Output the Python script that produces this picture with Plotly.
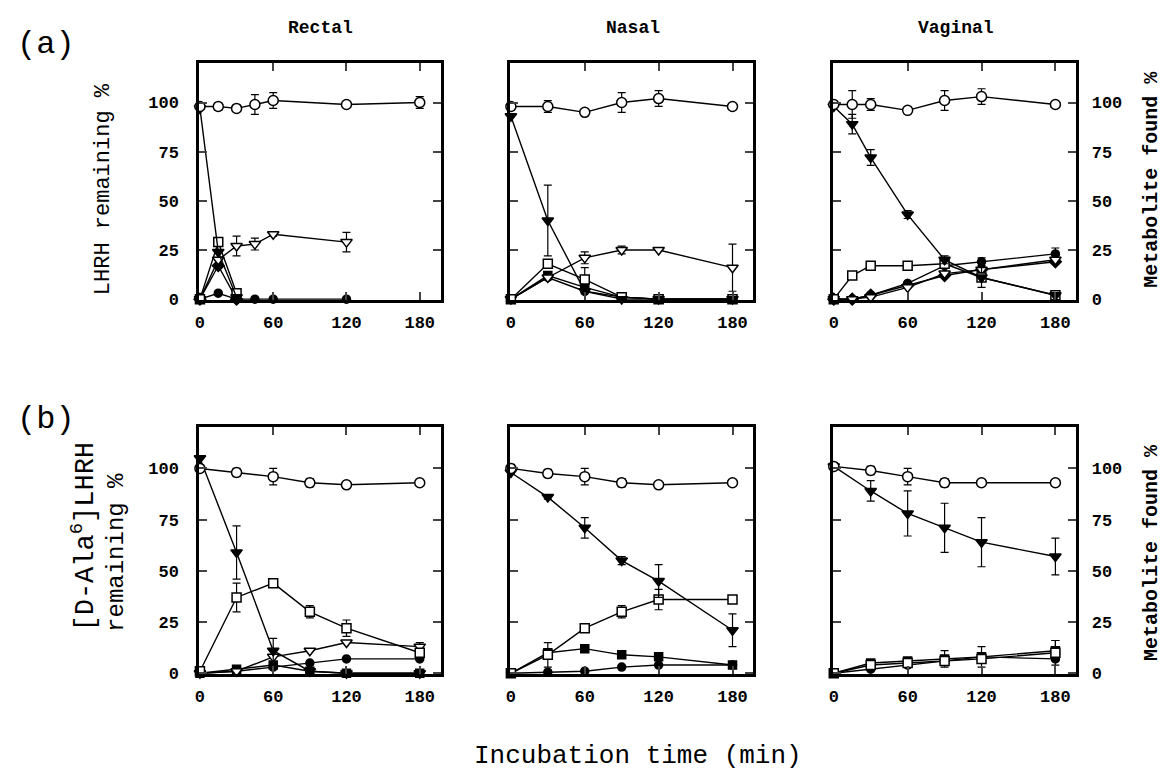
import plotly.graph_objects as go

W, H = 1171, 783

# ---------------- data ----------------
# Row (a): LHRH
T_AR = [0, 15, 30, 45, 60, 120, 180]
T_AR_SHORT = [0, 15, 30]
T_AR_MID = [0, 15, 30, 45, 60, 120]
AR_LHRH = [98, 98, 97, 99, 101, 99, 100]
AR_LHRH_ERR = [1, 2, 0, 5, 4, 1, 3]
AR_FT = [97, 24, 1]
AR_OS = [0, 29, 3]
AR_FD = [0, 17, 0]
AR_FC = [0, 3, 0, 0, 0, 0]
AR_OT = [0, 20, 27, 28, 33, 29]
AR_OT_ERR = [0, 0, 5, 3, 1, 5]

T_AN = [0, 30, 60, 90, 120, 180]
AN_LHRH = [98, 98, 95, 100, 102, 98]
AN_LHRH_ERR = [2, 3, 0, 5, 4, 1]
AN_FT = [93, 40, 4, 0, 0, 0]
AN_FT_ERR = [0, 18, 0, 0, 0, 0]
AN_OS = [0, 18, 10, 1, 0, 0]
AN_OS_ERR = [0, 0, 6, 0, 0, 0]
AN_FSQ = [0, 12, 6, 1, 0, 0]
AN_FC = [0, 11, 4, 1, 0, 0]
AN_OT = [0, 11, 21, 25, 25, 16]
AN_OT_ERR = [0, 0, 3, 2, 0, 12]

T_AV = [0, 15, 30, 60, 90, 120, 180]
AV_LHRH = [99, 99, 99, 96, 101, 103, 99]
AV_LHRH_ERR = [0, 7, 3, 0, 5, 4, 1]
AV_FT = [98, 89, 72, 43, 20, 11, 2]
AV_FT_ERR = [0, 5, 4, 2, 2, 0, 0]
AV_OS = [0, 12, 17, 17, 18, 11, 2]
AV_OS_ERR = [0, 0, 0, 2, 0, 5, 1]
AV_FD = [0, 0, 2, 7, 12, 15, 19]
AV_FC = [0, 0, 2, 8, 17, 19, 23]
AV_FC_ERR = [0, 0, 0, 0, 0, 2, 3]
AV_OT = [0, 0, 1, 6, 13, 15, 20]
AV_OT_ERR = [0, 0, 0, 0, 0, 0, 2]

# Row (b): [D-Ala6]LHRH
T_B = [0, 30, 60, 90, 120, 180]
BR_LHRH = [100, 98, 96, 93, 92, 93]
BR_LHRH_ERR = [1, 2, 4, 2, 0, 0]
BR_FT = [105, 59, 11, 1, 0, 0]
BR_FT_ERR = [0, 13, 6, 0, 0, 0]
BR_OS = [1, 37, 44, 30, 22, 10]
BR_OS_ERR = [0, 7, 0, 3, 4, 0]
BR_OT = [0, 1, 8, 11, 15, 13]
BR_OT_ERR = [0, 0, 0, 0, 0, 2]
BR_FC = [0, 1, 3, 5, 7, 7]
BR_FSQ = [0, 2, 4, 1, 0, 0]

BN_LHRH = [100, 97.5, 96, 93, 92, 93]
BN_LHRH_ERR = [2, 2, 4, 2, 0, 0]
BN_FT = [98, 86, 71, 55, 45, 21]
BN_FT_ERR = [0, 1, 5, 2, 8, 8]
BN_OS = [0, 9, 22, 30, 36, 36]
BN_OS_ERR = [0, 6, 0, 3, 5, 0]
BN_FSQ = [0, 10, 12, 9, 8, 4]
BN_FC = [0, 0.5, 1, 3, 4, 4]

BV_LHRH = [101, 99, 96, 93, 93, 93]
BV_LHRH_ERR = [1, 2, 4, 2, 0, 0]
BV_FT = [101, 89, 78, 71, 64, 57]
BV_FT_ERR = [0, 5, 11, 12, 12, 9]
BV_OS = [0, 4, 5, 6, 7, 10]
BV_OS_ERR = [0, 0, 0, 0, 0, 6]
BV_FSQ = [0, 5, 6, 7, 8, 11]
BV_FSQ_ERR = [0, 0, 0, 4, 5, 5]
BV_FC = [0, 2, 4, 6, 8, 7]

COLUMN_TITLES = ["Rectal", "Nasal", "Vaginal"]
X_TICKS = [0, 60, 120, 180]
Y_TICKS = [0, 25, 50, 75, 100]

# ---------------- styles ----------------
STYLE = {
    "oc": dict(symbol="circle", color="white"),
    "ft": dict(symbol="triangle-down", color="black"),
    "os": dict(symbol="square", color="white"),
    "ot": dict(symbol="triangle-down", color="white"),
    "fc": dict(symbol="circle", color="black"),
    "fsq": dict(symbol="square", color="black"),
    "fd": dict(symbol="diamond", color="black"),
}
SIZE = {"oc": 10, "ft": 10, "os": 9, "ot": 10, "fc": 8, "fsq": 8, "fd": 9}

# panel index -> list of (style, x, y, err)
PANELS = {
    1: [("fc", T_AR_MID, AR_FC, None), ("fd", T_AR_SHORT, AR_FD, None),
        ("ot", T_AR_MID, AR_OT, AR_OT_ERR), ("os", T_AR_SHORT, AR_OS, None),
        ("ft", T_AR_SHORT, AR_FT, None), ("oc", T_AR, AR_LHRH, AR_LHRH_ERR)],
    2: [("fc", T_AN, AN_FC, None), ("fsq", T_AN, AN_FSQ, None),
        ("ot", T_AN, AN_OT, AN_OT_ERR), ("os", T_AN, AN_OS, AN_OS_ERR),
        ("ft", T_AN, AN_FT, AN_FT_ERR), ("oc", T_AN, AN_LHRH, AN_LHRH_ERR)],
    3: [("fd", T_AV, AV_FD, None), ("fc", T_AV, AV_FC, AV_FC_ERR),
        ("ot", T_AV, AV_OT, AV_OT_ERR), ("os", T_AV, AV_OS, AV_OS_ERR),
        ("ft", T_AV, AV_FT, AV_FT_ERR), ("oc", T_AV, AV_LHRH, AV_LHRH_ERR)],
    4: [("fc", T_B, BR_FC, None), ("fsq", T_B, BR_FSQ, None),
        ("ot", T_B, BR_OT, BR_OT_ERR), ("os", T_B, BR_OS, BR_OS_ERR),
        ("ft", T_B, BR_FT, BR_FT_ERR), ("oc", T_B, BR_LHRH, BR_LHRH_ERR)],
    5: [("fc", T_B, BN_FC, None), ("fsq", T_B, BN_FSQ, None),
        ("os", T_B, BN_OS, BN_OS_ERR),
        ("ft", T_B, BN_FT, BN_FT_ERR), ("oc", T_B, BN_LHRH, BN_LHRH_ERR)],
    6: [("fc", T_B, BV_FC, None), ("fsq", T_B, BV_FSQ, BV_FSQ_ERR),
        ("os", T_B, BV_OS, BV_OS_ERR),
        ("ft", T_B, BV_FT, BV_FT_ERR), ("oc", T_B, BV_LHRH, BV_LHRH_ERR)],
}

# ---------------- layout geometry (pixels) ----------------
COLS_PX = [(196, 438), (508, 752), (832, 1076)]
ROWS_PX = [(64, 304), (433, 683)]

MONO = "Liberation Mono"
TICKFONT = dict(family=MONO, size=17, color="black", weight="bold")

fig = go.Figure()

for idx, series in PANELS.items():
    suffix = "" if idx == 1 else str(idx)
    for key, xs, ys, err in series:
        st = STYLE[key]
        tr = go.Scatter(
            x=xs, y=ys, mode="lines+markers",
            line=dict(color="black", width=1.4),
            marker=dict(symbol=st["symbol"], color=st["color"], size=SIZE[key],
                        line=dict(color="black", width=1.5)),
            cliponaxis=False, showlegend=False,
            xaxis="x" + suffix, yaxis="y" + suffix,
        )
        if err is not None:
            tr.error_y = dict(type="data", array=err, visible=True,
                              color="black", thickness=1.2, width=4)
        fig.add_trace(tr)

layout = {}
for idx in range(1, 7):
    r = (idx - 1) // 3
    c = (idx - 1) % 3
    x0, x1 = COLS_PX[c]
    y0, y1 = ROWS_PX[r]
    suffix = "" if idx == 1 else str(idx)
    layout["xaxis" + suffix] = dict(
        domain=[x0 / W, x1 / W], range=[-0.5, 197], anchor="y" + suffix,
        tickvals=X_TICKS, ticks="inside", ticklen=8, tickwidth=2,
        showline=True, linewidth=3, linecolor="black", mirror="ticks",
        showgrid=False, zeroline=False, tickfont=TICKFONT,
        ticklabelstandoff=4, fixedrange=True,
    )
    ya = dict(
        domain=[1 - y1 / H, 1 - y0 / H], range=[-0.5, 120], anchor="x" + suffix,
        tickvals=Y_TICKS, ticks="inside", ticklen=8, tickwidth=2,
        showline=True, linewidth=3, linecolor="black", mirror="ticks",
        showgrid=False, zeroline=False, tickfont=TICKFONT, fixedrange=True,
    )
    if c == 0:
        ya.update(showticklabels=True, side="left", ticklabelstandoff=14)
    elif c == 1:
        ya.update(showticklabels=False)
    else:
        ya.update(showticklabels=True, side="right", ticklabelstandoff=9)
    layout["yaxis" + suffix] = ya

def P(xp, yp):
    return xp / W, 1 - yp / H

annotations = []
def ann(text, xp, yp, size, family=MONO, bold=False, angle=0,
        xanchor="center", yanchor="middle"):
    x, y = P(xp, yp)
    annotations.append(dict(
        text=text, x=x, y=y, xref="paper", yref="paper", showarrow=False,
        textangle=angle, xanchor=xanchor, yanchor=yanchor,
        font=dict(family=family, size=size, color="black",
                  weight="bold" if bold else "normal")))

# column titles
for (x0, x1), t in zip(COLS_PX, COLUMN_TITLES):
    ann(t, (x0 + x1) / 2 + 1, 28, 18, bold=True)

ann("(a)", 42, 45, 32)
ann("(b)", 42, 425, 32)
ann("LHRH remaining %", 100, 192, 22, angle=-90)
ann("[D-Ala<sup>6</sup>]LHRH", 80, 642, 27, angle=-90, yanchor="bottom")
ann("remaining %", 113, 642, 24, angle=-90, yanchor="bottom")
ann("Metabolite found %", 1152, 182, 20, bold=True, angle=-90)
ann("Metabolite found %", 1152, 560, 20, bold=True, angle=-90)
ann("Incubation time (min)", 636, 766, 26)

fig.update_layout(
    width=W, height=H, autosize=False,
    margin=dict(l=0, r=0, t=0, b=0),
    paper_bgcolor="white", plot_bgcolor="white",
    annotations=annotations, showlegend=False,
    **layout,
)

fig.write_html("out.html", config={"displayModeBar": False},
               post_script="document.body.style.margin='0';document.body.style.padding='0';")
